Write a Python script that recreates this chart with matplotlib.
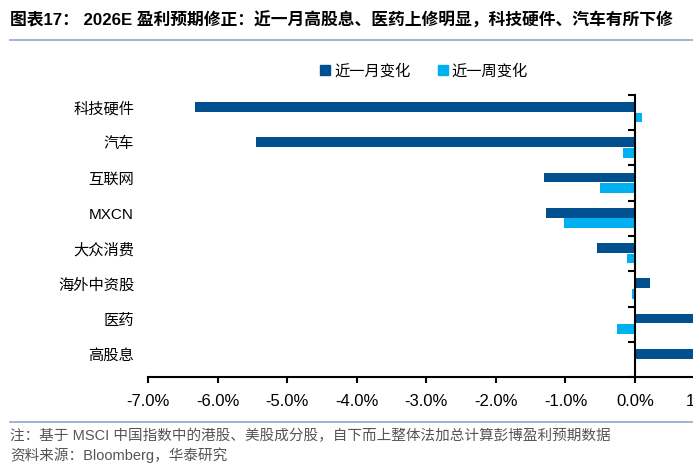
import matplotlib.pyplot as plt
import numpy as np
from matplotlib.lines import Line2D

plt.rcParams['font.family'] = ['Liberation Sans', 'Noto Sans CJK SC', 'DejaVu Sans']

categories = ['科技硬件', '汽车', '互联网', 'MXCN', '大众消费', '海外中资股', '医药', '高股息']
month_chg = [-6.32, -5.45, -1.31, -1.28, -0.55, 0.22, 1.10, 1.05]
week_chg = [0.10, -0.18, -0.50, -1.02, -0.12, -0.04, -0.26, 0.0]
xticks = [-7, -6, -5, -4, -3, -2, -1, 0, 1]

c_month = '#00508F'
c_week = '#00B0F0'

fig = plt.figure(figsize=(6.93, 4.69), dpi=100)
ax = fig.add_axes([148 / 693, 1 - 377 / 469, 556.6 / 693, 282 / 469])

n = len(categories)
centers = n - np.arange(n) - 0.5
h = 0.28
ax.barh(centers + 0.16, month_chg, height=h, color=c_month, label='近一月变化')
ax.barh(centers - 0.14, week_chg, height=h, color=c_week, label='近一周变化')

ax.set_xlim(-7, 1)
ax.set_ylim(0, n)
ax.set_xticks(xticks)
ax.set_xticklabels([f'{v:.1f}%' for v in xticks], fontsize=12)
ax.tick_params(axis='x', length=4, width=1.5, pad=8)

ax.spines['left'].set_position(('data', 0))
ax.spines['left'].set_linewidth(1.5)
ax.spines['bottom'].set_linewidth(1.5)
ax.spines['top'].set_visible(False)
ax.spines['right'].set_visible(False)
ax.set_yticks(np.arange(0, n + 1))
ax.set_yticklabels([])
ax.tick_params(axis='y', length=5, width=1.5)

for y, name in zip(centers, categories):
    ax.text(-0.025, y + 0.1, name, transform=ax.get_yaxis_transform(),
            ha='right', va='center', fontsize=11,
            family=['Liberation Sans', 'Noto Sans CJK SC'])

handles = [Line2D([], [], marker='s', ls='none', color=c_month, markersize=7),
           Line2D([], [], marker='s', ls='none', color=c_week, markersize=7)]
fig.legend(handles, ['近一月变化', '近一周变化'], loc='center', bbox_to_anchor=(0.61, 1 - 71 / 469),
           ncol=2, frameon=False, handletextpad=0.1, columnspacing=1.6,
           handlelength=1.0, prop={'family': ['Noto Sans CJK SC'], 'size': 11})

fig.text(10 / 693, 1 - 20 / 469, '图表17： 2026E 盈利预期修正：近一月高股息、医药上修明显，科技硬件、汽车有所下修',
         ha='left', va='center', fontsize=12.1, fontweight='bold')
fig.add_artist(Line2D([10 / 693, 1], [1 - 40 / 469, 1 - 40 / 469], color='#8EA9C8', lw=1.2))
fig.add_artist(Line2D([10 / 693, 1], [1 - 422 / 469, 1 - 422 / 469], color='#8EA9C8', lw=1.2))

fig.text(10 / 693, 1 - 436 / 469, '注：基于 MSCI 中国指数中的港股、美股成分股，自下而上整体法加总计算彭博盈利预期数据',
         ha='left', va='center', fontsize=10.5, color='#555555')
fig.text(10 / 693, 1 - 455 / 469, '资料来源：Bloomberg，华泰研究',
         ha='left', va='center', fontsize=10.5, color='#555555')

fig.savefig('out.png', dpi=100)
